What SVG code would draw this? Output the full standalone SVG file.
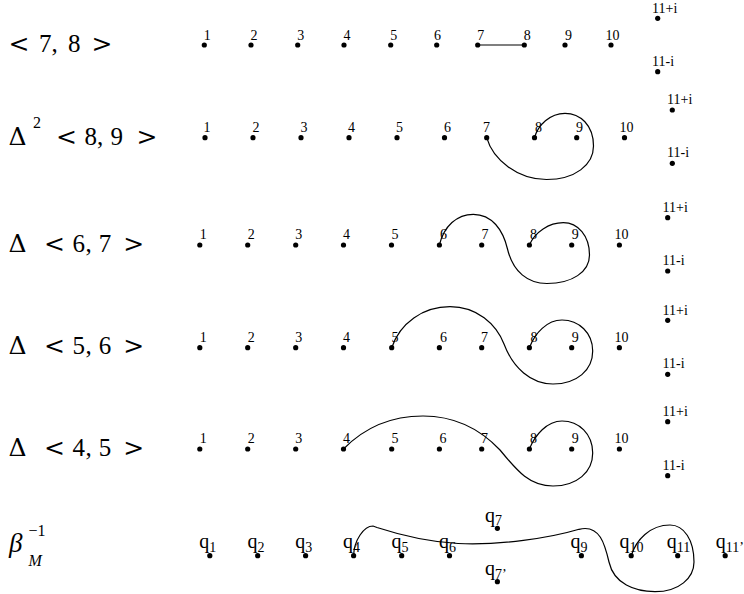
<svg xmlns="http://www.w3.org/2000/svg" width="744" height="594" viewBox="0 0 744 594">
<style>
.dot{fill:#000}
.lbl{font-family:"Liberation Serif","Times New Roman",serif;font-size:14px;fill:#000}
.math{font-family:"Liberation Serif","Times New Roman",serif;font-size:25px;fill:#000}
.rel{font-family:"DejaVu Serif",serif;font-size:25px}
.delta{font-family:"DejaVu Serif",serif;font-size:25px}
.sup{font-size:16px}
.q{font-family:"Liberation Serif","Times New Roman",serif;font-size:20px;fill:#000}
.sub{font-size:14px}
.wire{fill:none;stroke:#000;stroke-width:1.2}
</style>
<rect width="744" height="594" fill="#fff"/>

<g id="titles">
<text class="math" y="52"><tspan class="rel" x="8.5">&lt;</tspan><tspan x="39">7</tspan><tspan x="51.5">,</tspan><tspan x="68">8</tspan><tspan class="rel" x="91.5">&gt;</tspan></text>
<text class="math" y="145"><tspan class="delta" x="8.5">Δ</tspan><tspan class="sup" x="33" y="128">2</tspan><tspan class="rel" x="56" y="145">&lt;</tspan><tspan x="84.5">8</tspan><tspan x="97">,</tspan><tspan x="110.5">9</tspan><tspan class="rel" x="136.5">&gt;</tspan></text>
<text class="math" y="252"><tspan class="delta" x="8.5">Δ</tspan><tspan class="rel" x="44">&lt;</tspan><tspan x="72.6">6</tspan><tspan x="85.5">,</tspan><tspan x="98.7">7</tspan><tspan class="rel" x="123.3">&gt;</tspan></text>
<text class="math" y="354"><tspan class="delta" x="8.5">Δ</tspan><tspan class="rel" x="44">&lt;</tspan><tspan x="72.6">5</tspan><tspan x="85.5">,</tspan><tspan x="98.7">6</tspan><tspan class="rel" x="123.3">&gt;</tspan></text>
<text class="math" y="456"><tspan class="delta" x="8.5">Δ</tspan><tspan class="rel" x="44">&lt;</tspan><tspan x="72.6">4</tspan><tspan x="85.5">,</tspan><tspan x="98.7">5</tspan><tspan class="rel" x="123.3">&gt;</tspan></text>
<text class="math" y="552" font-style="italic"><tspan x="9" font-size="27">β</tspan><tspan class="sup" x="28.5" y="536" font-style="normal">−1</tspan><tspan class="sup" x="28.5" y="566">M</tspan></text>
</g>

<g id="connectors">
<path class="wire" d="M477.7,45 H524.3"/>
<path class="wire" d="M486.7,137.7 C493,160 518,179.5 546.5,179.5 C575,179.5 593.5,165 593.5,146 C593.5,125 580,113.3 565,113.3 C550,113.3 538,125 534.5,137.7"/>
<path class="wire" d="M439.4,245 C444,226 457,214.3 473.3,214.3 C492,214.3 503,230 507.5,249 C513,272 528,283.5 547,283.5 C572,283.5 589.5,272 589.5,255 C589.5,236 578,222.7 563.3,222.7 C549,222.7 535,232 529.4,245"/>
<path class="wire" d="M391.7,347.7 C400,323 423,306.7 450,306.7 C477,306.7 496,324 504,344 C513,368 531,384 553,384 C577,384 592.7,370 592.7,351 C592.7,333 579,320 562,320 C547,320 535,333 529.4,347.7"/>
<path class="wire" d="M343.5,449 C366,426 393,416 423,416 C456,416 482,431 500,450 C518,472 530,486 553,486 C577,486 592.7,472 592.7,453 C592.7,434 579,421 562,421 C547,421 535,435 529.4,449"/>
<path class="wire" d="M353.6,555.7 C354,540 364,526 373,526 L377,527.5 C400,535 430,542 458,543.5 C500,545.5 550,538 579,529.3 C600,524 605,545 609,562 C614,584 635,591.7 655,591.7 C679,591.7 694,578 694,562 C694,540 684,525 670,525 C650,525 636,540 631.2,555.7"/>
</g>

<!-- Row 1 -->
<g id="r1-1"><circle class="dot" cx="204.3" cy="45" r="2.6"/><text class="lbl" x="203.8" y="39.5">1</text></g>
<g id="r1-2"><circle class="dot" cx="251" cy="45" r="2.6"/><text class="lbl" x="250.5" y="39.5">2</text></g>
<g id="r1-3"><circle class="dot" cx="297.7" cy="45" r="2.6"/><text class="lbl" x="297.2" y="39.5">3</text></g>
<g id="r1-4"><circle class="dot" cx="344" cy="45" r="2.6"/><text class="lbl" x="343.5" y="39.5">4</text></g>
<g id="r1-5"><circle class="dot" cx="390.7" cy="45" r="2.6"/><text class="lbl" x="390.2" y="39.5">5</text></g>
<g id="r1-6"><circle class="dot" cx="436.7" cy="45" r="2.6"/><text class="lbl" x="434" y="39.5">6</text></g>
<g id="r1-7"><circle class="dot" cx="477.7" cy="45" r="2.6"/><text class="lbl" x="477.2" y="39.5">7</text></g>
<g id="r1-8"><circle class="dot" cx="524.3" cy="45" r="2.6"/><text class="lbl" x="523.8" y="39.5">8</text></g>
<g id="r1-9"><circle class="dot" cx="565" cy="45" r="2.6"/><text class="lbl" x="565" y="39.5">9</text></g>
<g id="r1-10"><circle class="dot" cx="611" cy="45" r="2.6"/><text class="lbl" x="605.5" y="39.5">10</text></g>
<g id="r1-11p"><circle class="dot" cx="657.7" cy="18.3" r="2.6"/><text class="lbl" x="652" y="12.5">11+i</text></g>
<g id="r1-11m"><circle class="dot" cx="657.7" cy="71.7" r="2.6"/><text class="lbl" x="652" y="65.7">11-i</text></g>

<!-- Row 2 -->
<g id="r2-1"><circle class="dot" cx="205" cy="137.7" r="2.6"/><text class="lbl" x="203.5" y="131.7">1</text></g>
<g id="r2-2"><circle class="dot" cx="253" cy="137.7" r="2.6"/><text class="lbl" x="252.5" y="131.7">2</text></g>
<g id="r2-3"><circle class="dot" cx="301" cy="137.7" r="2.6"/><text class="lbl" x="300.5" y="131.7">3</text></g>
<g id="r2-4"><circle class="dot" cx="349" cy="137.7" r="2.6"/><text class="lbl" x="348" y="131.7">4</text></g>
<g id="r2-5"><circle class="dot" cx="397" cy="137.7" r="2.6"/><text class="lbl" x="396" y="131.7">5</text></g>
<g id="r2-6"><circle class="dot" cx="444.5" cy="137.7" r="2.6"/><text class="lbl" x="444" y="131.7">6</text></g>
<g id="r2-7"><circle class="dot" cx="486.7" cy="137.7" r="2.6"/><text class="lbl" x="483" y="131.7">7</text></g>
<g id="r2-8"><circle class="dot" cx="534.5" cy="137.7" r="2.6"/><text class="lbl" x="535" y="131.7">8</text></g>
<g id="r2-9"><circle class="dot" cx="576.7" cy="137.7" r="2.6"/><text class="lbl" x="576" y="131.7">9</text></g>
<g id="r2-10"><circle class="dot" cx="624.5" cy="137.7" r="2.6"/><text class="lbl" x="619.5" y="131.7">10</text></g>
<g id="r2-11p"><circle class="dot" cx="672.3" cy="110" r="2.6"/><text class="lbl" x="667" y="103.5">11+i</text></g>
<g id="r2-11m"><circle class="dot" cx="672.3" cy="163.3" r="2.6"/><text class="lbl" x="667" y="156.8">11-i</text></g>

<!-- Row 3 -->
<g id="r3-1"><circle class="dot" cx="199.8" cy="245" r="2.6"/><text class="lbl" x="199.8" y="239.3">1</text></g>
<g id="r3-2"><circle class="dot" cx="247.7" cy="245" r="2.6"/><text class="lbl" x="247.7" y="239.3">2</text></g>
<g id="r3-3"><circle class="dot" cx="295.7" cy="245" r="2.6"/><text class="lbl" x="295.2" y="239.3">3</text></g>
<g id="r3-4"><circle class="dot" cx="343.5" cy="245" r="2.6"/><text class="lbl" x="343" y="239.3">4</text></g>
<g id="r3-5"><circle class="dot" cx="391.5" cy="245" r="2.6"/><text class="lbl" x="391.5" y="239.3">5</text></g>
<g id="r3-6"><circle class="dot" cx="439.4" cy="245" r="2.6"/><text class="lbl" x="440" y="239.3">6</text></g>
<g id="r3-7"><circle class="dot" cx="481.7" cy="245" r="2.6"/><text class="lbl" x="481.5" y="239.3">7</text></g>
<g id="r3-8"><circle class="dot" cx="529.4" cy="245" r="2.6"/><text class="lbl" x="530" y="239.3">8</text></g>
<g id="r3-9"><circle class="dot" cx="571.7" cy="245" r="2.6"/><text class="lbl" x="571.7" y="239.3">9</text></g>
<g id="r3-10"><circle class="dot" cx="619.4" cy="245" r="2.6"/><text class="lbl" x="614.5" y="239.3">10</text></g>
<g id="r3-11p"><circle class="dot" cx="667.7" cy="217.7" r="2.6"/><text class="lbl" x="662.5" y="211.7">11+i</text></g>
<g id="r3-11m"><circle class="dot" cx="667.7" cy="271" r="2.6"/><text class="lbl" x="662.5" y="265">11-i</text></g>

<!-- Row 4 -->
<g id="r4-1"><circle class="dot" cx="199.8" cy="347.7" r="2.6"/><text class="lbl" x="199.8" y="341.7">1</text></g>
<g id="r4-2"><circle class="dot" cx="247.7" cy="347.7" r="2.6"/><text class="lbl" x="247.7" y="341.7">2</text></g>
<g id="r4-3"><circle class="dot" cx="295.7" cy="347.7" r="2.6"/><text class="lbl" x="295.2" y="341.7">3</text></g>
<g id="r4-4"><circle class="dot" cx="343.5" cy="347.7" r="2.6"/><text class="lbl" x="343" y="341.7">4</text></g>
<g id="r4-5"><circle class="dot" cx="391.7" cy="347.7" r="2.6"/><text class="lbl" x="391.5" y="341.7">5</text></g>
<g id="r4-6"><circle class="dot" cx="439.4" cy="347.7" r="2.6"/><text class="lbl" x="440" y="341.7">6</text></g>
<g id="r4-7"><circle class="dot" cx="481.7" cy="347.7" r="2.6"/><text class="lbl" x="481" y="341.7">7</text></g>
<g id="r4-8"><circle class="dot" cx="529.4" cy="347.7" r="2.6"/><text class="lbl" x="530.5" y="341.7">8</text></g>
<g id="r4-9"><circle class="dot" cx="571.7" cy="347.7" r="2.6"/><text class="lbl" x="571.7" y="341.7">9</text></g>
<g id="r4-10"><circle class="dot" cx="619.4" cy="347.7" r="2.6"/><text class="lbl" x="614.5" y="341.7">10</text></g>
<g id="r4-11p"><circle class="dot" cx="667.7" cy="320.3" r="2.6"/><text class="lbl" x="662.5" y="315">11+i</text></g>
<g id="r4-11m"><circle class="dot" cx="667.7" cy="374.3" r="2.6"/><text class="lbl" x="662.5" y="368.3">11-i</text></g>

<!-- Row 5 -->
<g id="r5-1"><circle class="dot" cx="199.8" cy="449" r="2.6"/><text class="lbl" x="199.8" y="442.8">1</text></g>
<g id="r5-2"><circle class="dot" cx="247.7" cy="449" r="2.6"/><text class="lbl" x="247.7" y="442.8">2</text></g>
<g id="r5-3"><circle class="dot" cx="295.7" cy="449" r="2.6"/><text class="lbl" x="295.2" y="442.8">3</text></g>
<g id="r5-4"><circle class="dot" cx="343.5" cy="449" r="2.6"/><text class="lbl" x="343" y="442.8">4</text></g>
<g id="r5-5"><circle class="dot" cx="391.7" cy="449" r="2.6"/><text class="lbl" x="391.5" y="442.8">5</text></g>
<g id="r5-6"><circle class="dot" cx="439.4" cy="449" r="2.6"/><text class="lbl" x="439.5" y="442.8">6</text></g>
<g id="r5-7"><circle class="dot" cx="481.7" cy="449" r="2.6"/><text class="lbl" x="481" y="442.8">7</text></g>
<g id="r5-8"><circle class="dot" cx="529.4" cy="449" r="2.6"/><text class="lbl" x="530" y="442.8">8</text></g>
<g id="r5-9"><circle class="dot" cx="571.7" cy="449" r="2.6"/><text class="lbl" x="571.7" y="442.8">9</text></g>
<g id="r5-10"><circle class="dot" cx="619.4" cy="449" r="2.6"/><text class="lbl" x="614.5" y="442.8">10</text></g>
<g id="r5-11p"><circle class="dot" cx="667.7" cy="421.7" r="2.6"/><text class="lbl" x="662.5" y="416">11+i</text></g>
<g id="r5-11m"><circle class="dot" cx="667.7" cy="475.7" r="2.6"/><text class="lbl" x="662.5" y="470">11-i</text></g>

<!-- Row 6 -->
<g id="q1"><circle class="dot" cx="209.8" cy="555.7" r="2.6"/><text class="q" x="199.3" y="548.3">q<tspan class="sub" dy="3.5">1</tspan></text></g>
<g id="q2"><circle class="dot" cx="257.7" cy="555.7" r="2.6"/><text class="q" x="247.4" y="548.3">q<tspan class="sub" dy="3.5">2</tspan></text></g>
<g id="q3"><circle class="dot" cx="305.6" cy="555.7" r="2.6"/><text class="q" x="295.2" y="548.3">q<tspan class="sub" dy="3.5">3</tspan></text></g>
<g id="q4"><circle class="dot" cx="353.6" cy="555.7" r="2.6"/><text class="q" x="343.1" y="548.3">q<tspan class="sub" dy="3.5">4</tspan></text></g>
<g id="q5"><circle class="dot" cx="401.7" cy="555.7" r="2.6"/><text class="q" x="391.5" y="548.3">q<tspan class="sub" dy="3.5">5</tspan></text></g>
<g id="q6"><circle class="dot" cx="449.5" cy="555.7" r="2.6"/><text class="q" x="439" y="548.3">q<tspan class="sub" dy="3.5">6</tspan></text></g>
<g id="q7"><circle class="dot" cx="497.4" cy="528.3" r="2.6"/><text class="q" x="485" y="521.7">q<tspan class="sub" dy="3.5">7</tspan></text></g>
<g id="q7p"><circle class="dot" cx="497.4" cy="581.7" r="2.6"/><text class="q" x="485" y="575">q<tspan class="sub" dy="3.5">7’</tspan></text></g>
<g id="q9"><circle class="dot" cx="581.4" cy="555.7" r="2.6"/><text class="q" x="570.5" y="548.3">q<tspan class="sub" dy="3.5">9</tspan></text></g>
<g id="q10"><circle class="dot" cx="631.2" cy="555.7" r="2.6"/><text class="q" x="619.4" y="548.3">q<tspan class="sub" dy="3.5">10</tspan></text></g>
<g id="q11"><circle class="dot" cx="677.7" cy="555.7" r="2.6"/><text class="q" x="666.8" y="548.3">q<tspan class="sub" dy="3.5">11</tspan></text></g>
<g id="q11p"><circle class="dot" cx="725.2" cy="555.7" r="2.6"/><text class="q" x="715.7" y="548.3">q<tspan class="sub" dy="3.5">11’</tspan></text></g>
</svg>
